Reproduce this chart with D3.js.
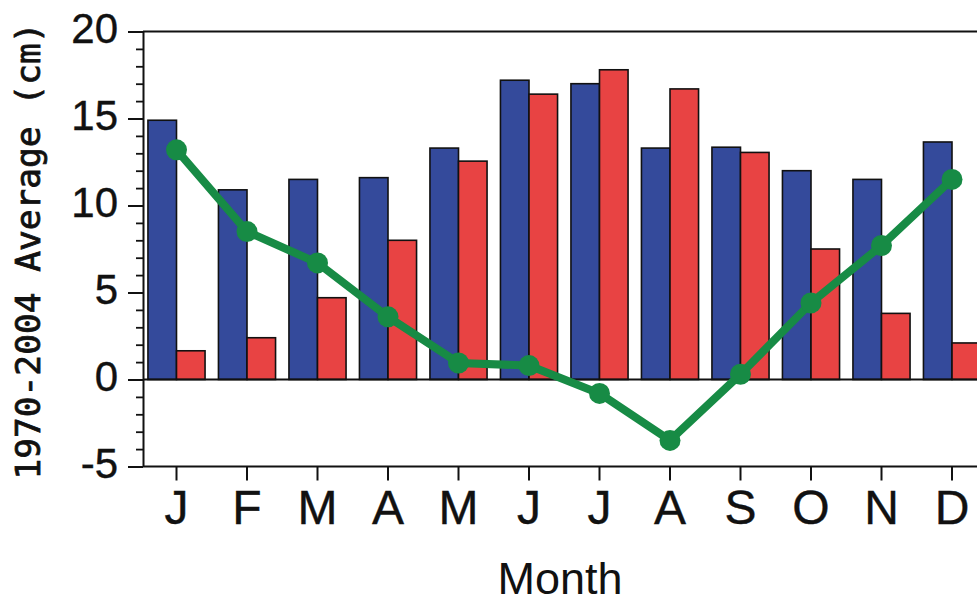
<!DOCTYPE html>
<html>
<head>
<meta charset="utf-8">
<script src="https://cdn.jsdelivr.net/npm/d3@7/dist/d3.min.js"></script>
<style>
  html, body { margin: 0; padding: 0; background: #fff; }
  svg { display: block; }
</style>
</head>
<body>
<svg id="chart" width="977" height="603"></svg>
<script>
// ---- data ----
const months = ["J","F","M","A","M","J","J","A","S","O","N","D"];
const blueValues = [14.9, 10.9, 11.5, 11.6, 13.3, 17.2, 17.0, 13.3, 13.35, 12.0, 11.5, 13.65];
const redValues  = [1.65, 2.4, 4.7, 8.0, 12.55, 16.4, 17.8, 16.7, 13.05, 7.5, 3.8, 2.1];
const greenValues = [13.2, 8.5, 6.7, 3.6, 0.95, 0.8, -0.8, -3.5, 0.3, 4.4, 7.7, 11.5];
const yMajorTicks = [-5, 0, 5, 10, 15, 20];
const yMinorTicks = d3.range(-5, 21, 1);
const yTitle = "1970-2004 Average (cm)";
const xTitle = "Month";

// ---- layout ----
const W = 977, H = 603;
const axisX = 143;
const svg = d3.select("#chart");

const idx = d3.range(months.length);
const x = d3.scaleBand().domain(idx).range([141.25, 987.25]).paddingInner(0.19).paddingOuter(0.095);
const xSub = d3.scaleBand().domain(["blue", "red"]).range([0, x.bandwidth()]);
const y = d3.scaleLinear().domain([-5, 20]).range([466.5, 31.5]);

const colors = { blue: "#344a9b", red: "#e84343", green: "#178b45" };
const fontSans = "'Liberation Sans', Arial, Helvetica, sans-serif";

// bars
const groups = svg.append("g").selectAll("g").data(idx).join("g")
  .attr("transform", i => `translate(${x(i)},0)`);
groups.append("rect")
  .attr("x", xSub("blue")).attr("width", xSub.bandwidth())
  .attr("y", i => y(blueValues[i])).attr("height", i => y(0) - y(blueValues[i]))
  .attr("fill", colors.blue).attr("stroke", "#111").attr("stroke-width", 1.6);
groups.append("rect")
  .attr("x", xSub("red")).attr("width", xSub.bandwidth())
  .attr("y", i => y(redValues[i])).attr("height", i => y(0) - y(redValues[i]))
  .attr("fill", colors.red).attr("stroke", "#111").attr("stroke-width", 1.6);

// frame lines: top, zero, bottom
[20, 0, -5].forEach(v => {
  svg.append("line")
    .attr("x1", axisX).attr("x2", W)
    .attr("y1", y(v)).attr("y2", y(v))
    .attr("stroke", "#111").attr("stroke-width", 2);
});

// y axis minor ticks
const yMinor = svg.append("g").attr("transform", `translate(${axisX},0)`)
  .call(d3.axisLeft(y).tickValues(yMinorTicks).tickSize(7).tickSizeOuter(0).tickFormat(""));
yMinor.select(".domain").attr("stroke", "#111").attr("stroke-width", 2);
yMinor.selectAll(".tick line").attr("stroke", "#111").attr("stroke-width", 1.8);

// y axis major ticks + labels
const yMajor = svg.append("g").attr("transform", `translate(${axisX},0)`)
  .call(d3.axisLeft(y).tickValues(yMajorTicks).tickSize(15).tickSizeOuter(0).tickPadding(10)
    .tickFormat(d => String(d)));
yMajor.select(".domain").remove();
yMajor.selectAll(".tick line").attr("stroke", "#111").attr("stroke-width", 2);
yMajor.selectAll(".tick text")
  .attr("font-family", fontSans).attr("font-size", 42).attr("fill", "#111")
  .attr("stroke", "#111").attr("stroke-width", 0.4)
  .attr("dy", "0.26em");

// x axis
const xAxis = svg.append("g").attr("transform", `translate(0,${y(-5)})`)
  .call(d3.axisBottom(x).tickSize(14).tickSizeOuter(0).tickPadding(9).tickFormat(i => months[i]));
xAxis.select(".domain").remove();
xAxis.selectAll(".tick line").attr("stroke", "#111").attr("stroke-width", 2);
xAxis.selectAll(".tick text")
  .attr("font-family", fontSans).attr("font-size", 48).attr("fill", "#111")
  .attr("stroke", "#111").attr("stroke-width", 0.4);

// green line
const lineGen = d3.line()
  .x(i => x(i) + x.bandwidth() / 2)
  .y(i => y(greenValues[i]));
svg.append("path").datum(idx)
  .attr("d", lineGen)
  .attr("fill", "none").attr("stroke", colors.green)
  .attr("stroke-width", 8).attr("stroke-linejoin", "round").attr("stroke-linecap", "round");
svg.append("g").selectAll("circle").data(idx).join("circle")
  .attr("cx", i => x(i) + x.bandwidth() / 2)
  .attr("cy", i => y(greenValues[i]))
  .attr("r", 10.5).attr("fill", colors.green);

// titles
svg.append("text")
  .attr("x", 560).attr("y", 594)
  .attr("text-anchor", "middle")
  .attr("font-family", fontSans).attr("font-size", 45).attr("fill", "#111")
  .text(xTitle);

svg.append("text")
  .attr("transform", "translate(40,251) rotate(-90)")
  .attr("text-anchor", "middle")
  .attr("font-family", "'DejaVu Sans Mono', monospace")
  .attr("font-size", 34.5).attr("fill", "#111")
  .attr("stroke", "#111").attr("stroke-width", 0.8)
  .text(yTitle);
</script>
</body>
</html>
